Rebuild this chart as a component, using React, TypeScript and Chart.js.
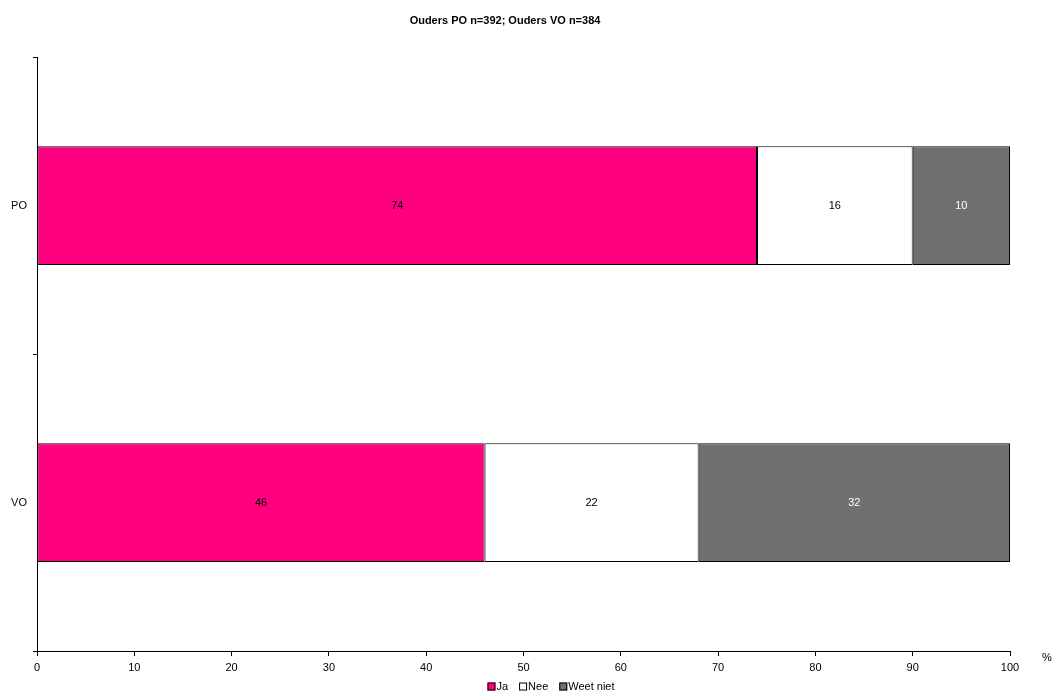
import React, { useEffect, useRef } from "react";
import { Chart, registerables } from "chart.js";

Chart.register(...registerables);

const categories = ["PO", "VO"];
const jaValues = [74, 46];
const neeValues = [16, 22];
const weetNietValues = [10, 32];
const xTicks = [0, 10, 20, 30, 40, 50, 60, 70, 80, 90, 100];
const titleText = "Ouders PO n=392; Ouders VO n=384";
const FONT = "'Liberation Sans', Arial, sans-serif";

const labelPlugin = {
  id: "labelPlugin",
  afterDraw(chart: any) {
    const ctx = chart.ctx;
    ctx.save();
    ctx.font = `11px ${FONT}`;
    ctx.textAlign = "center";
    ctx.textBaseline = "middle";
    chart.data.datasets.forEach((ds: any, di: number) => {
      const meta = chart.getDatasetMeta(di);
      meta.data.forEach((bar: any, i: number) => {
        const v = ds.data[i];
        const props = bar.getProps(["x", "y", "base"], true);
        const cx = (props.x + props.base) / 2;
        ctx.fillStyle = di === 2 ? "#ffffff" : "#000000";
        ctx.fillText(String(v), cx, props.y);
      });
    });
    const xScale = chart.scales.x;
    ctx.fillStyle = "#000";
    ctx.textAlign = "left";
    ctx.fillText("%", xScale.right + 32, xScale.top + 7);

    // legend
    const box = 8;
    const gapText = 1;
    const gapItem = 11;
    const widths = chart.data.datasets.map(
      (ds: any) => box + gapText + ctx.measureText(ds.label).width
    );
    const total =
      widths.reduce((a: number, b: number) => a + b, 0) + gapItem * (widths.length - 1);
    let x = 551 - total / 2;
    const cy = 686.5;
    chart.data.datasets.forEach((ds: any, di: number) => {
      ctx.fillStyle = ds.backgroundColor;
      ctx.fillRect(x, cy - box / 2, box, box);
      ctx.strokeStyle = "#000";
      ctx.lineWidth = 1;
      ctx.strokeRect(x + 0.5, cy - box / 2 + 0.5, box - 1, box - 1);
      ctx.fillStyle = "#000";
      ctx.fillText(ds.label, x + box + gapText, cy);
      x += widths[di] + gapItem;
    });
    ctx.restore();
  },
};

export default function App() {
  const ref = useRef<HTMLCanvasElement | null>(null);
  useEffect(() => {
    document.body.style.margin = "0";
    const chart = new Chart(ref.current as HTMLCanvasElement, {
      type: "bar",
      data: {
        labels: categories,
        datasets: [
          {
            label: "Ja",
            data: jaValues,
            backgroundColor: "#FF0080",
            borderColor: "#000000",
            borderWidth: 1,
            borderSkipped: false,
          },
          {
            label: "Nee",
            data: neeValues,
            backgroundColor: "#FFFFFF",
            borderColor: "#000000",
            borderWidth: 1,
            borderSkipped: false,
          },
          {
            label: "Weet niet",
            data: weetNietValues,
            backgroundColor: "#707070",
            borderColor: "#000000",
            borderWidth: 1,
            borderSkipped: false,
          },
        ] as any,
      },
      options: {
        indexAxis: "y",
        responsive: false,
        animation: false,
        maintainAspectRatio: false,
        layout: { padding: { left: 0, right: 45, top: 0, bottom: 0 } },
        datasets: { bar: { barPercentage: 0.4, categoryPercentage: 1 } } as any,
        plugins: {
          title: {
            display: true,
            text: titleText,
            color: "#000",
            font: { family: FONT, size: 11, weight: "bold" },
            padding: { top: 14, bottom: 30 },
          },
          legend: { display: false },
          tooltip: { enabled: false },
        },
        scales: {
          x: {
            stacked: true,
            min: 0,
            max: 100,
            afterBuildTicks: (scale: any) => {
              scale.ticks = xTicks.map((v) => ({ value: v }));
            },
            afterFit: (scale: any) => {
              scale.height = 42;
            },
            ticks: {
              color: "#000",
              font: { family: FONT, size: 11 },
              padding: 5,
              maxRotation: 0,
            },
            grid: {
              drawOnChartArea: false,
              drawTicks: true,
              tickLength: 5,
              color: "#000",
            },
            border: { display: true, color: "#000" },
          },
          y: {
            stacked: true,
            afterFit: (scale: any) => {
              scale.width = 37;
            },
            ticks: {
              color: "#000",
              font: { family: FONT, size: 11 },
              padding: 6,
            },
            grid: {
              offset: true,
              drawOnChartArea: false,
              drawTicks: true,
              tickLength: 4,
              color: "#000",
            },
            border: { display: true, color: "#000" },
          },
        },
      },
      plugins: [labelPlugin],
    } as any);
    return () => chart.destroy();
  }, []);
  return (
    <div style={{ position: "absolute", left: 0, top: 0, width: 1055, height: 693 }}>
      <canvas ref={ref} width={1055} height={693} />
    </div>
  );
}
